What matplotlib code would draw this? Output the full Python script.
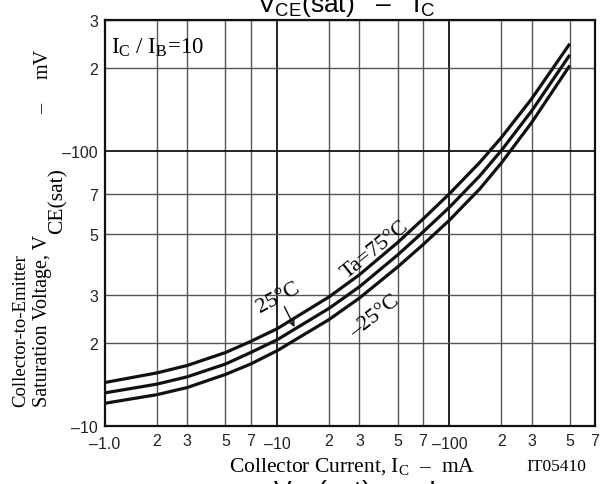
import matplotlib
matplotlib.use("Agg")
import matplotlib.pyplot as plt
from matplotlib.ticker import FixedLocator, FixedFormatter

plt.rcParams['mathtext.fontset'] = 'custom'
plt.rcParams['mathtext.rm'] = 'Liberation Serif'
plt.rcParams['mathtext.sf'] = 'Liberation Sans'

# ---- data ----
ic_ma = [1, 2, 3, 5, 7, 10, 20, 30, 50, 70, 100, 150, 200, 300, 500]
vce_75 = [14.4, 15.6, 16.6, 18.5, 20.3, 22.6, 29.5, 35.5, 46.5, 56.5, 70, 91, 112, 155, 246]
vce_25 = [13.2, 14.2, 15.1, 16.8, 18.5, 20.6, 26.8, 32.1, 41.9, 50.7, 62.5, 81.3, 100.5, 140, 224]
vce_m25 = [12.1, 13.0, 13.8, 15.4, 16.8, 18.8, 24.4, 29.2, 37.9, 45.6, 56.1, 72.9, 90.5, 127, 205]

x_major = [1, 10, 100]
x_major_labels = ["\u20131.0", "\u201310", "\u2013100"]
x_minor = [2, 3, 5, 7, 20, 30, 50, 70, 200, 300, 500, 700]
x_minor_labels = ["2", "3", "5", "7", "2", "3", "5", "7", "2", "3", "5", "7"]
y_major = [10, 100]
y_major_labels = ["\u201310", "\u2013100"]
y_minor = [20, 30, 50, 70, 200, 300]
y_minor_labels = ["2", "3", "5", "7", "2", "3"]

DASH = "\u2013"
W, H = 613, 485
fig = plt.figure(figsize=(W / 100, H / 100), dpi=100)
L, R, T, B = 105, 595, 21, 427
ax = fig.add_axes([L / W, (H - B) / H, (R - L) / W, (B - T) / H])
ax.set_xscale('log')
ax.set_yscale('log')
ax.set_xlim(1, 700)
ax.set_ylim(10, 300)

for v in (vce_75, vce_25, vce_m25):
    ax.plot(ic_ma, v, color='#111111', lw=2.3, solid_capstyle='butt',
            solid_joinstyle='round', zorder=3)

sans = 'Liberation Sans'
serif = 'Liberation Serif'
ax.xaxis.set_major_locator(FixedLocator(x_major))
ax.xaxis.set_major_formatter(FixedFormatter(x_major_labels))
ax.xaxis.set_minor_locator(FixedLocator(x_minor))
ax.xaxis.set_minor_formatter(FixedFormatter(x_minor_labels))
ax.yaxis.set_major_locator(FixedLocator(y_major))
ax.yaxis.set_major_formatter(FixedFormatter(y_major_labels))
ax.yaxis.set_minor_locator(FixedLocator(y_minor))
ax.yaxis.set_minor_formatter(FixedFormatter(y_minor_labels))
ax.tick_params(which='both', length=0, labelsize=11.5, colors='#222222')
ax.tick_params(axis='x', which='minor', pad=5)
ax.tick_params(axis='x', which='major', pad=7)
ax.tick_params(axis='y', which='both', pad=5)
for lab in ax.get_xticklabels(which='both') + ax.get_yticklabels(which='both'):
    lab.set_fontfamily(sans)

ax.grid(which='major', color='#111111', lw=1.3, zorder=1)
ax.grid(which='minor', color='#555555', lw=1.0, zorder=1)
for s in ax.spines.values():
    s.set_color('#111111')
    s.set_linewidth(1.6)

# annotations
ax.text(1.08, 240, "I$_\\mathrm{C}$ / I$_\\mathrm{B}$=10", family=serif, fontsize=16.5,
        ha='left', va='center')
ax.text(37, 44, "Ta=75\u00b0C", family=serif, fontsize=16, rotation=39,
        ha='center', va='center', rotation_mode='anchor')
ax.text(10.1, 29.4, "25\u00b0C", family=serif, fontsize=16, rotation=28,
        ha='center', va='center', rotation_mode='anchor')
ax.text(37, 25.2, DASH + "25\u00b0C", family=serif, fontsize=16, rotation=38,
        ha='center', va='center', rotation_mode='anchor')
ax.annotate("", xy=(12.6, 22.9), xytext=(11.0, 27.2),
            arrowprops=dict(arrowstyle='->', color='#111111', lw=1.0,
                            shrinkA=0, shrinkB=0, mutation_scale=11))

# axis titles
fig.text(352 / W, (H - 467) / H, "Collector Current, I$_\\mathrm{C}$  " + DASH + "  mA",
         family=serif, fontsize=15.5, ha='center', va='center')
fig.text(21 / W, (H - 407) / H, "Collector-to-Emitter", family=serif, fontsize=13.5,
         rotation=90, ha='center', va='bottom')

# second y-label line built from pieces (subscript nearly full size, lowered)
renderer = fig.canvas.get_renderer()
t1 = fig.text(43 / W, (H - 407) / H, "Saturation Voltage, V", family=serif,
              fontsize=14.5, rotation=90, ha='center', va='bottom')
bb = t1.get_window_extent(renderer)
fig.text((bb.x1 - 4) / W, (bb.y1 + 1) / H, "CE(sat)", family=serif,
         fontsize=15.5, rotation=90, ha='left', va='bottom')
fig.text(43 / W, (H - 109) / H, DASH, family=serif, fontsize=14.5, rotation=90,
         ha='center', va='center')
fig.text(43 / W, (H - 64) / H, "mV", family=serif, fontsize=14.5, rotation=90,
         ha='center', va='center')

fig.text(556 / W, (H - 467) / H, "IT05410", family=serif, fontsize=12.5,
         ha='center', va='center')

# cut-off titles at top and bottom (as in the reference)
fig.text(346 / W, (H - 12) / H, "V$_\\mathsf{CE}$(sat)   " + DASH + "   I$_\\mathsf{C}$",
         family=sans, fontsize=19, ha='center', va='baseline')
fig.text(362 / W, (H - 478) / H, "V$_\\mathsf{CE}$(sat)   " + DASH + "   I$_\\mathsf{C}$",
         family=sans, fontsize=19, ha='center', va='top')

fig.savefig("out.png", dpi=100)
